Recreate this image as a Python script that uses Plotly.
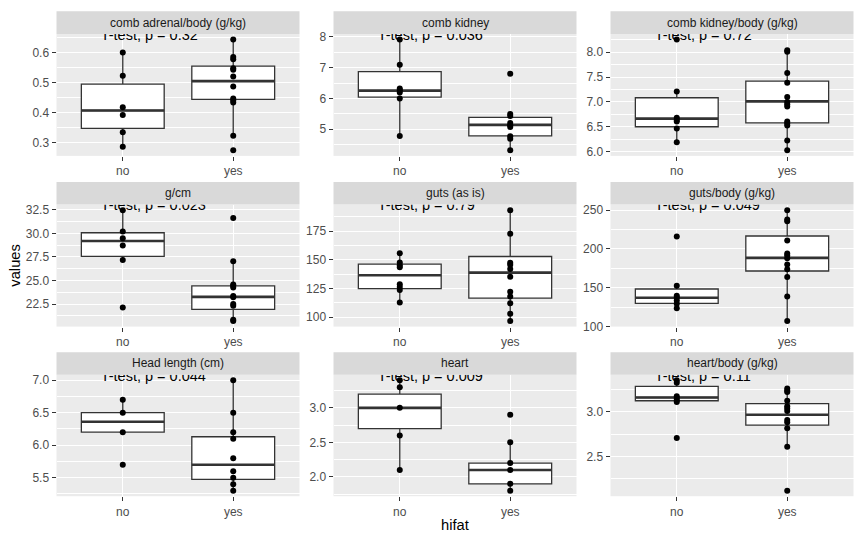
import plotly.graph_objects as go

W, H = 862, 548

groups = ["no", "yes"]
titles = ["comb adrenal/body (g/kg)", "comb kidney", "comb kidney/body (g/kg)",
          "g/cm", "guts (as is)", "guts/body (g/kg)",
          "Head length (cm)", "heart", "heart/body (g/kg)"]
pvals = ["0.32", "0.036", "0.72", "0.023", "0.79", "0.049", "0.044", "0.009", "0.11"]

# points per panel: (no, yes)
pts_no = [
    [0.600, 0.523, 0.418, 0.392, 0.334, 0.286],
    [7.92, 7.10, 6.32, 6.27, 6.19, 6.00, 4.78],
    [8.255, 7.21, 6.686, 6.64, 6.61, 6.47, 6.19],
    [32.47, 30.21, 29.48, 28.72, 27.19, 22.15],
    [155.6, 147.6, 145.1, 143.4, 128.6, 126.2, 123.7, 112.8],
    [215.9, 152.7, 139.6, 137.5, 133.7, 129.5, 123.6],
    [6.7, 6.5, 6.2, 5.7],
    [3.4, 3.3, 3.0, 2.6, 2.1],
    [3.348, 3.319, 3.17, 3.145, 3.123, 3.105, 2.707],
]
pts_yes = [
    [0.644, 0.585, 0.578, 0.548, 0.543, 0.520, 0.487, 0.447, 0.440, 0.434, 0.323, 0.274],
    [6.80, 5.49, 5.43, 5.20, 5.13, 5.07, 4.77, 4.69, 4.31],
    [8.04, 8.006, 7.58, 7.386, 7.098, 7.0, 6.954, 6.91, 6.61, 6.57, 6.53, 6.23, 6.03],
    [31.63, 27.05, 24.58, 24.44, 24.27, 23.37, 23.23, 22.5, 22.33, 20.83, 20.7],
    [193.2, 172.7, 147.3, 145.6, 141.9, 135.1, 122.2, 118.0, 112.0, 102.9, 96.6],
    [250.0, 237.8, 235.7, 210.8, 194.0, 191.4, 188.0, 180.0, 173.7, 164.0, 138.7, 107.1],
    [7.0, 6.5, 6.2, 6.1, 5.8, 5.6, 5.5, 5.4, 5.3],
    [2.9, 2.5, 2.2, 2.1, 1.9, 1.8],
    [3.257, 3.232, 3.217, 3.12, 3.058, 3.033, 3.007, 2.906, 2.88, 2.815, 2.609, 2.12],
]
# box stats per panel: [no, yes]
box_q1 = [[0.347, 0.444], [6.04, 4.78], [6.503, 6.582], [27.57, 21.94], [124.8, 116.5],
          [129.9, 171.6], [6.2, 5.475], [2.7, 1.9], [3.12, 2.848]]
box_med = [[0.407, 0.505], [6.255, 5.14], [6.667, 7.013], [29.2, 23.26], [136.5, 138.8],
           [137.1, 188.5], [6.36, 5.7], [3.0, 2.1], [3.156, 2.964]]
box_q3 = [[0.495, 0.555], [6.87, 5.38], [7.085, 7.418], [30.07, 24.44], [146.2, 152.8],
          [148.4, 216.7], [6.5, 6.13], [3.2, 2.2], [3.279, 3.087]]
box_lo = [[0.286, 0.323], [4.78, 4.31], [6.19, 6.03], [27.19, 20.7], [112.8, 96.6],
          [123.6, 107.1], [6.2, 5.3], [2.1, 1.8], [3.105, 2.609]]
box_hi = [[0.600, 0.644], [7.92, 5.49], [7.21, 8.04], [32.47, 27.05], [155.6, 193.2],
          [152.7, 250.0], [6.7, 7.0], [3.4, 2.5], [3.348, 3.257]]

dticks = [0.1, 1, 0.5, 2.5, 25, 50, 0.5, 0.5, 0.5]
tformats = [".1f", "d", ".1f", ".1f", "d", "d", ".1f", ".1f", ".1f"]

# layout geometry (pixels)
cols_px = [(56.5, 299.5), (333.5, 576.5), (610.5, 853.5)]
rows_px = [(30.5, 155.0), (204.7, 329.2), (378.3, 502.3)]
strip_h = 23

fig = go.Figure()
layout = dict(
    width=W, height=H, margin=dict(l=0, r=0, t=0, b=0),
    paper_bgcolor="white", plot_bgcolor="#EBEBEB",
    showlegend=False, font=dict(family="Liberation Sans, Arial", color="#1A1A1A"),
    boxmode="overlay",
)
shapes = []
annotations = []

for i in range(9):
    r, c = divmod(i, 3)
    ax = "" if i == 0 else str(i + 1)
    xa, ya = "x" + ax, "y" + ax
    x0, x1 = cols_px[c]
    y0, y1 = rows_px[r]

    allv = pts_no[i] + pts_yes[i]
    lo, hi = min(allv), max(allv)
    pad = 0.05 * (hi - lo)

    # box
    fig.add_trace(go.Box(
        x=[0, 1], q1=box_q1[i], median=box_med[i], q3=box_q3[i],
        lowerfence=box_lo[i], upperfence=box_hi[i],
        width=0.75, whiskerwidth=0, boxpoints=False,
        fillcolor="white", line=dict(color="#333333", width=1.3),
        xaxis=xa, yaxis=ya, hoverinfo="skip",
    ))
    # thicker median line
    fig.add_trace(go.Box(
        x=[0, 1], q1=box_med[i], median=box_med[i], q3=box_med[i],
        lowerfence=box_med[i], upperfence=box_med[i],
        width=0.75, whiskerwidth=0, boxpoints=False,
        fillcolor="rgba(0,0,0,0)", line=dict(color="#333333", width=2.6),
        xaxis=xa, yaxis=ya, hoverinfo="skip",
    ))
    # points
    fig.add_trace(go.Scatter(
        x=[0] * len(pts_no[i]) + [1] * len(pts_yes[i]), y=allv,
        mode="markers", marker=dict(color="black", size=6),
        xaxis=xa, yaxis=ya, hoverinfo="skip",
    ))
    # t-test label (clipped by panel top)
    fig.add_trace(go.Scatter(
        x=[-0.2], y=[hi + 0.03 * (hi - lo)], mode="text",
        text=["T-test, p = " + pvals[i]],
        textposition="middle right", textfont=dict(size=14.5, color="black"),
        cliponaxis=True, xaxis=xa, yaxis=ya, hoverinfo="skip",
    ))

    layout["xaxis" + ax] = dict(
        domain=[x0 / W, x1 / W], anchor=ya, range=[-0.6, 1.6],
        tickmode="array", tickvals=[0, 1], ticktext=groups,
        showgrid=True, gridcolor="white", gridwidth=1.4, zeroline=False,
        ticks="outside", ticklen=4, tickcolor="#333333", tickwidth=1.1,
        tickfont=dict(size=12, color="#4D4D4D"), fixedrange=True,
    )
    layout["yaxis" + ax] = dict(
        domain=[1 - y1 / H, 1 - y0 / H], anchor=xa, range=[lo - pad, hi + pad],
        tickmode="linear", tick0=0, dtick=dticks[i], tickformat=tformats[i],
        showgrid=True, gridcolor="white", gridwidth=1.4, zeroline=False,
        ticks="outside", ticklen=4, tickcolor="#333333", tickwidth=1.1,
        tickfont=dict(size=12, color="#4D4D4D"),
        minor=dict(dtick=dticks[i] / 2, tick0=0, showgrid=True,
                   gridcolor="white", gridwidth=0.7, ticks=""),
        fixedrange=True,
    )
    # strip
    shapes.append(dict(type="rect", xref="paper", yref="paper",
                       x0=x0 / W, x1=x1 / W, y0=1 - y0 / H, y1=1 - (y0 - strip_h) / H,
                       fillcolor="#D9D9D9", line=dict(width=0), layer="above"))
    annotations.append(dict(xref="paper", yref="paper", x=(x0 + x1) / 2 / W,
                            y=1 - (y0 - strip_h / 2) / H, text=titles[i], showarrow=False,
                            font=dict(size=12, color="#1A1A1A"),
                            xanchor="center", yanchor="middle"))

annotations.append(dict(xref="paper", yref="paper", x=455 / W, y=1 - 532 / H, text="hifat",
                        showarrow=False, font=dict(size=14.7, color="black"),
                        xanchor="center", yanchor="middle"))
annotations.append(dict(xref="paper", yref="paper", x=15 / W, y=1 - 267 / H, text="values",
                        showarrow=False, textangle=-90, font=dict(size=14.7, color="black"),
                        xanchor="center", yanchor="middle"))

layout["shapes"] = shapes
layout["annotations"] = annotations
fig.update_layout(**layout)

post = (
    "document.documentElement.style.margin='0';"
    "document.documentElement.style.overflow='hidden';"
    "document.body.style.margin='0';"
    "document.body.style.overflow='hidden';"
    "var gd=document.getElementById('{plot_id}');"
    "var w=window.innerWidth||862, h=window.innerHeight||548;"
    "gd.style.width=w+'px'; gd.style.height=h+'px';"
    "Plotly.relayout(gd,{width:w,height:h});"
)
fig.write_html("out.html", config={"displayModeBar": False}, post_script=post)
